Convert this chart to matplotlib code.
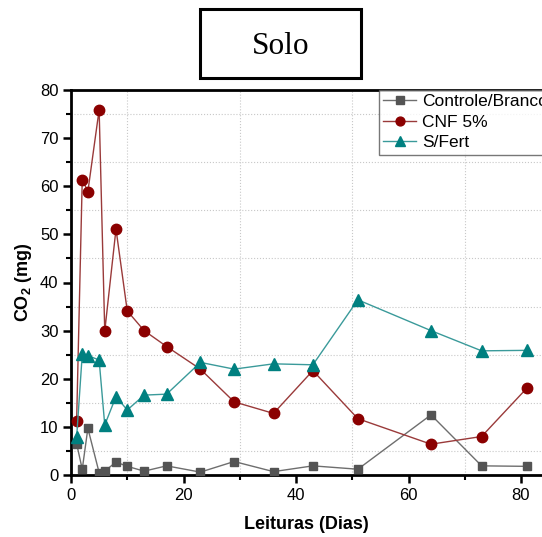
import matplotlib
matplotlib.use("Agg")
import matplotlib.pyplot as plt
from matplotlib.patches import Rectangle
from matplotlib.ticker import MultipleLocator

plt.rcParams['font.family'] = ['Liberation Sans', 'DejaVu Sans']
plt.rcParams['mathtext.fontset'] = 'custom'
plt.rcParams['mathtext.rm'] = 'Liberation Sans'
plt.rcParams['mathtext.bf'] = 'Liberation Sans:bold'

# Reading days
dias = [1, 2, 3, 5, 6, 8, 10, 13, 17, 23, 29, 36, 43, 51, 64, 73, 81]

# CO2 (mg) per treatment
controle = [6.5, 1.2, 9.7, 0.5, 0.8, 2.7, 1.8, 0.8, 1.9, 0.6, 2.8, 0.7, 1.9, 1.2, 12.5, 1.9, 1.8]
cnf5 = [11.3, 61.4, 58.9, 75.9, 29.9, 51.1, 34.1, 30.0, 26.7, 22.0, 15.2, 12.8, 21.7, 11.7, 6.4, 8.0, 18.0]
sfert = [7.8, 25.1, 24.8, 23.9, 10.4, 16.3, 13.5, 16.6, 16.8, 23.4, 22.0, 23.1, 22.9, 36.4, 30.0, 25.8, 25.9]

labels = ['Controle/Branco', 'CNF 5%', 'S/Fert']

W, H = 542, 537
fig = plt.figure(figsize=(W / 100, H / 100), dpi=100)
ax = fig.add_axes([71 / W, 1 - 475 / H, 1 - 71 / W, (475 - 90) / H])

ax.plot(dias, controle, color='#6e6e6e', lw=1.0, marker='s', ms=6,
        mfc='#545454', mec='#545454', label=labels[0], zorder=3)
ax.plot(dias, cnf5, color='#9a3a3a', lw=1.0, marker='o', ms=7.5,
        mfc='#8b0000', mec='#8b0000', label=labels[1], zorder=3)
ax.plot(dias, sfert, color='#3a9a9a', lw=1.0, marker='^', ms=8,
        mfc='#008080', mec='#008080', label=labels[2], zorder=3)

ax.set_xlim(0, (W - 71) / 5.625)
ax.set_ylim(0, 80)
ax.xaxis.set_major_locator(MultipleLocator(20))
ax.xaxis.set_minor_locator(MultipleLocator(10))
ax.yaxis.set_major_locator(MultipleLocator(10))
ax.yaxis.set_minor_locator(MultipleLocator(5))
ax.grid(which='minor', ls=':', lw=0.8, color='#c8c8c8')
ax.set_axisbelow(True)

for s in ['left', 'bottom', 'top']:
    ax.spines[s].set_linewidth(2)
ax.spines['right'].set_visible(False)
ax.tick_params(which='major', direction='out', length=6, width=1.8, labelsize=12, pad=3)
ax.tick_params(which='minor', direction='out', length=3.5, width=1.5)
ax.tick_params(top=False, right=False)

ax.set_xlabel('Leituras (Dias)', fontsize=13, fontweight='bold', labelpad=10)
ax.set_ylabel(r'CO$_\mathbf{2}$ (mg)', fontsize=13, fontweight='bold', labelpad=4)

leg = ax.legend(loc='upper left', bbox_to_anchor=((379 - 71) / (W - 71), 1.0),
                fontsize=12.5, frameon=True, fancybox=False, borderaxespad=0,
                handlelength=1.9, handletextpad=0.35, borderpad=0.25,
                labelspacing=0.3, markerscale=0.85)
leg.get_frame().set_edgecolor('#555555')
leg.get_frame().set_linewidth(1.0)

# Title box
fig.patches.append(Rectangle((200 / W, 1 - 78 / H), 161 / W, 69 / H,
                             transform=fig.transFigure, fill=False,
                             edgecolor='black', linewidth=2.2))
fig.text(281 / W, 1 - 47 / H, 'Solo', ha='center', va='center',
         fontsize=22.5, family=['Liberation Serif', 'DejaVu Serif'])

fig.savefig('out.png', dpi=100)
